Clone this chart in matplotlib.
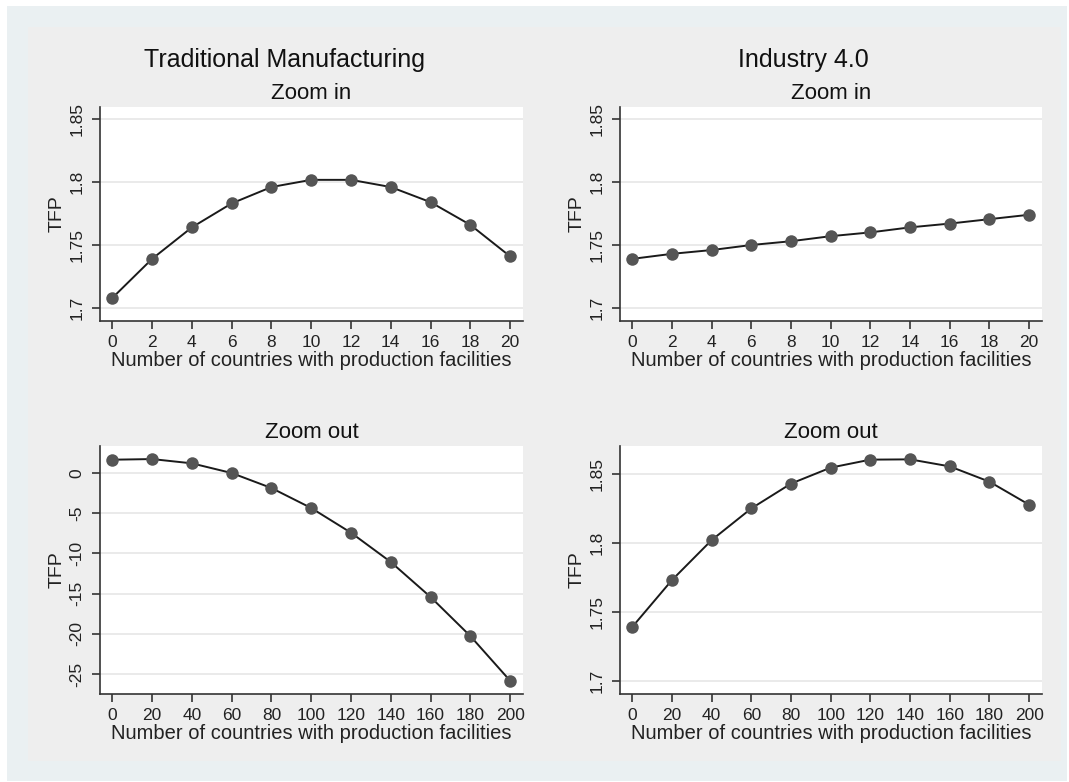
import matplotlib
matplotlib.use("Agg")
import matplotlib.pyplot as plt
from matplotlib.patches import Rectangle

plt.rcParams['font.family'] = ['Liberation Sans', 'DejaVu Sans']

# ---- data ----
x_in = [0, 2, 4, 6, 8, 10, 12, 14, 16, 18, 20]
x_out = [0, 20, 40, 60, 80, 100, 120, 140, 160, 180, 200]

trad_in = [1.708, 1.739, 1.764, 1.783, 1.796, 1.8017, 1.8017, 1.796, 1.784, 1.766, 1.741]
ind_in = [1.739, 1.743, 1.746, 1.750, 1.753, 1.757, 1.760, 1.764, 1.767, 1.7705, 1.774]
trad_out = [1.61, 1.69, 1.16, -0.04, -1.90, -4.38, -7.44, -11.07, -15.41, -20.25, -25.79]
ind_out = [1.739, 1.773, 1.802, 1.825, 1.843, 1.8546, 1.8604, 1.8606, 1.8555, 1.8444, 1.8277]

yticks_small = [1.7, 1.75, 1.8, 1.85]
ytick_small_labels = ["1.7", "1.75", "1.8", "1.85"]
yticks_trad_out = [0, -5, -10, -15, -20, -25]
ytick_trad_out_labels = ["0", "-5", "-10", "-15", "-20", "-25"]

col_titles = ["Traditional Manufacturing", "Industry 4.0"]
row_titles = ["Zoom in", "Zoom out"]
xlabel = "Number of countries with production facilities"
ylabel = "TFP"

W, H = 1069, 782
fig = plt.figure(figsize=(W / 100, H / 100), dpi=100)
fig.patch.set_facecolor('white')

def px_rect(x0, y0, x1, y1):
    return [x0 / W, 1 - y1 / H, (x1 - x0) / W, (y1 - y0) / H]

# outer bluish region and inner gray region
r = px_rect(7, 6, 1067, 781)
fig.patches.append(Rectangle((r[0], r[1]), r[2], r[3], transform=fig.transFigure,
                             facecolor='#eaf0f2', edgecolor='none', zorder=-10))
r = px_rect(28, 27, 1061, 761)
fig.patches.append(Rectangle((r[0], r[1]), r[2], r[3], transform=fig.transFigure,
                             facecolor='#eeeeee', edgecolor='none', zorder=-9))

panels = [
    (px_rect(100, 107, 523, 321), x_in, trad_in, (-0.62, 20.65), (1.6897, 1.8595), yticks_small, ytick_small_labels, row_titles[0]),
    (px_rect(620, 107, 1042, 321), x_in, ind_in, (-0.62, 20.65), (1.6897, 1.8595), yticks_small, ytick_small_labels, row_titles[0]),
    (px_rect(100, 446, 523, 694), x_out, trad_out, (-6.2, 206.5), (-27.44, 3.31), yticks_trad_out, ytick_trad_out_labels, row_titles[1]),
    (px_rect(620, 446, 1042, 694), x_out, ind_out, (-6.2, 206.5), (1.6903, 1.8703), yticks_small, ytick_small_labels, row_titles[1]),
]

line_col = '#1a1a1a'
mark_col = '#555555'
axis_col = '#333333'

for rect, xs, ys, xl, yl, yt, ytl, ttl in panels:
    ax = fig.add_axes(rect)
    ax.set_facecolor('white')
    ax.plot(xs, ys, color=line_col, lw=1.4, zorder=3)
    ax.plot(xs, ys, 'o', color=mark_col, markersize=9, markeredgewidth=0, zorder=4)
    ax.set_xlim(*xl)
    ax.set_ylim(*yl)
    ax.set_xticks(xs)
    ax.set_xticklabels([str(v) for v in xs], fontsize=12.5, color='#222222')
    ax.set_yticks(yt)
    ax.set_yticklabels(ytl, fontsize=12.5, rotation=90, va='center', color='#222222')
    ax.grid(axis='y', color='#e6e6e6', lw=1.2)
    ax.set_axisbelow(True)
    for s in ['top', 'right']:
        ax.spines[s].set_visible(False)
    for s in ['left', 'bottom']:
        ax.spines[s].set_color(axis_col)
        ax.spines[s].set_linewidth(1.2)
    ax.tick_params(axis='x', direction='out', length=6, width=1.2, color=axis_col, pad=4)
    ax.tick_params(axis='y', direction='out', length=6, width=1.2, color=axis_col, pad=5)
    ax.set_xlabel(xlabel, fontsize=14.5, labelpad=1, color='#222222')
    ax.set_ylabel(ylabel, fontsize=14, labelpad=3, color='#222222')
    ax.set_title(ttl, fontsize=16, pad=6, color='#111111')

fig.text(285 / W, 1 - 60 / H, col_titles[0], fontsize=18, ha='center', va='center', color='#111111')
fig.text(803 / W, 1 - 60 / H, col_titles[1], fontsize=18, ha='center', va='center', color='#111111')

fig.savefig("out.png", dpi=100, facecolor=fig.get_facecolor())
